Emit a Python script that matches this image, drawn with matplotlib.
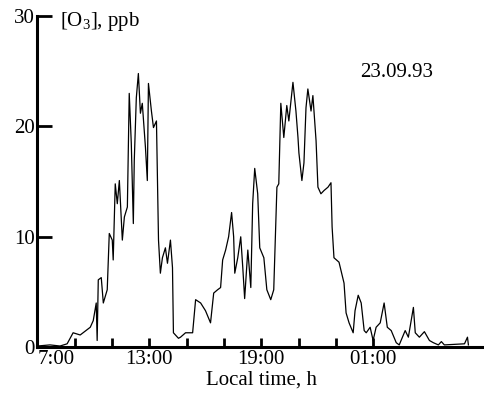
import numpy as np
import matplotlib
matplotlib.use("Agg")
import matplotlib.pyplot as plt

plt.rcParams['font.family'] = ['Liberation Serif', 'DejaVu Serif']
plt.rcParams['mathtext.default'] = 'regular'

# local time in hours (values > 24 are after midnight), ozone in ppb
hours = [7.00, 7.67, 8.21, 8.59, 8.91, 9.29, 9.83, 9.99, 10.15, 10.20,
         10.26, 10.42, 10.53, 10.74, 10.85, 11.01, 11.06, 11.17, 11.28, 11.39,
         11.55, 11.66, 11.82, 11.87, 11.92, 12.03, 12.14, 12.19, 12.30, 12.41,
         12.52, 12.62, 12.79, 12.89, 12.95, 13.11, 13.22, 13.38, 13.49, 13.59,
         13.70, 13.86, 13.97, 14.13, 14.24, 14.29, 14.56, 14.67, 14.94, 15.32,
         15.48, 15.75, 16.01, 16.28, 16.45, 16.66, 16.82, 16.93, 17.09, 17.25,
         17.41, 17.52, 17.58, 17.74, 17.90, 18.01, 18.11, 18.28, 18.44, 18.54,
         18.65, 18.81, 18.92, 19.14, 19.30, 19.51, 19.67, 19.84, 19.94, 20.05,
         20.21, 20.37, 20.48, 20.70, 20.86, 20.97, 21.02, 21.18, 21.29, 21.40,
         21.50, 21.67, 21.77, 21.94, 22.04, 22.20, 22.37, 22.58, 22.74, 22.80,
         22.90, 23.17, 23.44, 23.55, 23.71, 23.93, 24.03, 24.20, 24.36, 24.52,
         24.63, 24.84, 25.00, 25.16, 25.38, 25.59, 25.76, 25.97, 26.24, 26.40,
         26.72, 26.89, 27.16, 27.26, 27.48, 27.75, 28.02, 28.23, 28.50, 28.66,
         28.82, 29.90, 30.06, 30.11]
ozone = [0.1, 0.2, 0.1, 0.3, 1.3, 1.1, 1.8, 2.4, 4.0, 0.6,
         6.1, 6.3, 4.0, 5.2, 10.3, 9.7, 7.9, 14.8, 13.0, 15.1,
         9.7, 11.8, 12.7, 17.8, 23.0, 18.5, 11.2, 16.9, 22.6, 24.8,
         21.2, 22.1, 18.1, 15.1, 23.9, 21.4, 19.9, 20.5, 9.7, 6.7,
         8.1, 9.0, 7.6, 9.7, 7.2, 1.3, 0.8, 0.9, 1.3, 1.3,
         4.3, 4.0, 3.3, 2.2, 4.9, 5.2, 5.4, 7.9, 8.8, 10.0,
         12.2, 10.0, 6.7, 8.1, 10.0, 7.2, 4.4, 8.8, 5.4, 13.0,
         16.2, 13.9, 9.0, 8.1, 5.2, 4.3, 5.2, 14.5, 14.8, 22.1,
         19.0, 21.9, 20.5, 24.0, 21.4, 19.0, 17.6, 15.1, 16.7, 21.7,
         23.4, 21.4, 22.8, 18.7, 14.5, 13.9, 14.2, 14.5, 14.9, 10.9,
         8.1, 7.7, 5.8, 3.1, 2.2, 1.3, 3.3, 4.7, 4.0, 1.5,
         1.3, 1.8, 0.6, 1.8, 2.2, 4.0, 1.8, 1.5, 0.4, 0.2,
         1.5, 0.9, 3.6, 1.3, 0.9, 1.4, 0.6, 0.4, 0.2, 0.5,
         0.2, 0.3, 0.9, 0.2]

label_hours = [7, 13, 19, 25]
label_text = ['7:00', '13:00', '19:00', '01:00']
minor_hours = [9, 11, 15, 17, 21, 23, 31]

fig = plt.figure(figsize=(4.85, 3.94), dpi=100)
ax = fig.add_axes([0.0773, 0.119, 0.9227, 0.840])
ax.plot(hours, ozone, color='black', lw=0.9)

ax.set_xlim(7, 31)
ax.set_ylim(0, 30)
for s in ['top', 'right']:
    ax.spines[s].set_visible(False)
for s in ['left', 'bottom']:
    ax.spines[s].set_linewidth(2.2)

ax.set_xticks(label_hours)
ax.set_xticklabels(label_text)
ax.set_xticks(minor_hours, minor=True)
ax.set_yticks([0, 10, 20, 30])
ax.tick_params(axis='x', which='both', direction='in', length=6.5, width=2, pad=2, labelsize=15)
ax.tick_params(axis='y', direction='in', length=11, width=2, pad=2, labelsize=15)
ax.get_xticklabels()[0].set_ha('left')

ax.set_xlabel('Local time, h', fontsize=15, labelpad=1)
ax.text(8.2, 29.5, r'[O$_{3}$], ppb', fontsize=15, va='center', ha='left')
ax.text(26.24, 24.9, '23.09.93', fontsize=15, va='center', ha='center')

fig.savefig('out.png', dpi=100)
